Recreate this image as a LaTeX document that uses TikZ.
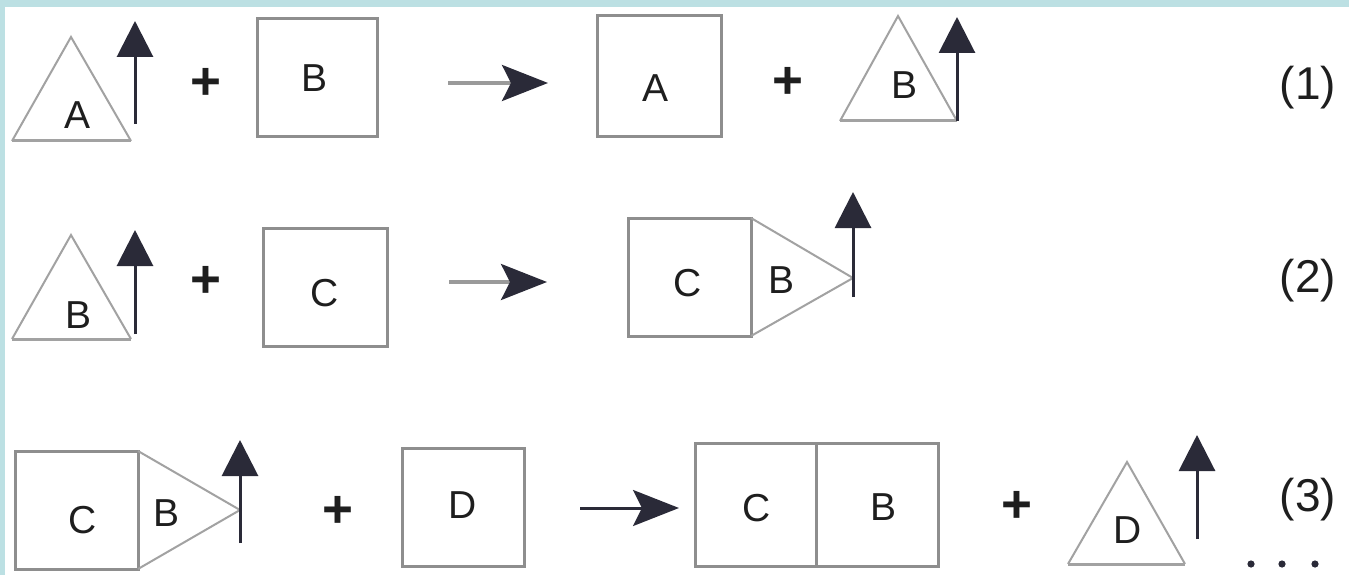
\documentclass[tikz,border=0pt]{standalone}
\usepackage{fontspec}
\setmainfont{Liberation Sans}
\usetikzlibrary{arrows.meta}
\definecolor{bordercyan}{HTML}{BCE0E3}
\definecolor{boxgray}{HTML}{8E8E8E}
\definecolor{trigray}{HTML}{A2A2A2}
\definecolor{arrowdark}{HTML}{2A2A38}
\definecolor{arrowgray}{HTML}{9A9A9A}
\definecolor{textdark}{HTML}{1E1E1E}
\begin{document}
\begin{tikzpicture}[x=1pt,y=-1pt,
  box/.style={draw=boxgray, line width=3pt},
  tri/.style={draw=trigray, line width=2pt, line join=miter},
  tribase/.style={draw=trigray, line width=3pt},
  lab/.style={font=\fontsize{39}{40}\selectfont, text=textdark, inner sep=0pt},
  num/.style={font=\fontsize{46}{48}\selectfont, text=textdark, inner sep=0pt},
  plussign/.style={font=\bfseries\fontsize{53}{55}\selectfont, text=textdark, inner sep=0pt},
  release/.style={draw=arrowdark, line width=3pt, -{Triangle[length=36pt,width=36pt]}},
  react/.style={draw=arrowgray, line width=3.5pt, -{Stealth[length=46pt,width=36pt,inset=9pt,color=arrowdark]}},
  reactdark/.style={draw=arrowdark, line width=3pt, -{Stealth[length=46pt,width=36pt,inset=9pt,color=arrowdark]}}
]
\useasboundingbox (0,0) rectangle (1349,575);
\fill[white] (0,0) rectangle (1349,575);
\fill[bordercyan] (0,0) rectangle (1349,7);
\fill[bordercyan] (0,0) rectangle (5,575);

% ---------- Row 1 ----------
\draw[tri] (12,141) -- (71,37) -- (131,141);
\draw[tribase] (12,141) -- (131,141);
\node[lab] (r1ta) at (78,115) {A};
\coordinate (r1u1s) at (135,124); \coordinate (r1u1e) at (135,21);
\draw[release] (r1u1s) -- (r1u1e);
\node[plussign] (r1p1) at (206,84) {+};
\draw[box] (257,19) rectangle (377,137);
\node[lab] (r1sb) at (315,78) {B};
\coordinate (r1as) at (448,83); \coordinate (r1ae) at (548,83);
\draw[react] (r1as) -- (r1ae);
\draw[box] (597,16) rectangle (721,137);
\node[lab] (r1sa) at (655,88) {A};
\node[plussign] (r1p2) at (788,83) {+};
\draw[tri] (840,121) -- (898,16) -- (957,121);
\draw[tribase] (840,121) -- (957,121);
\node[lab] (r1tb) at (904,85) {B};
\coordinate (r1u2s) at (957,121); \coordinate (r1u2e) at (957,17);
\draw[release] (r1u2s) -- (r1u2e);
\node[num] (n1) at (1308,88) {(1)};

% ---------- Row 2 ----------
\draw[tri] (12,339) -- (71,235) -- (131,339);
\draw[tribase] (12,339) -- (131,339);
\node[lab] (r2tb) at (79,315) {B};
\coordinate (r2u1s) at (135,334); \coordinate (r2u1e) at (135,230);
\draw[release] (r2u1s) -- (r2u1e);
\node[plussign] (r2p1) at (206,282) {+};
\draw[box] (263,228) rectangle (387,346);
\node[lab] (r2sc) at (325,293) {C};
\coordinate (r2as) at (449,282); \coordinate (r2ae) at (547,282);
\draw[react] (r2as) -- (r2ae);
\draw[box] (628,218) rectangle (751,336);
\node[lab] (r2pc) at (688,283) {C};
\draw[tri] (751,218) -- (853,278) -- (751,336);
\node[lab] (r2pb) at (781,280) {B};
\coordinate (r2u2s) at (853,297); \coordinate (r2u2e) at (853,192);
\draw[release] (r2u2s) -- (r2u2e);
\node[num] (n2) at (1308,281) {(2)};

% ---------- Row 3 ----------
\draw[box] (15,451) rectangle (138,569);
\node[lab] (r3sc) at (83,520) {C};
\draw[tri] (138,451) -- (240,510) -- (138,569);
\node[lab] (r3sb) at (167,513) {B};
\coordinate (r3u1s) at (240,543); \coordinate (r3u1e) at (240,440);
\draw[release] (r3u1s) -- (r3u1e);
\node[plussign] (r3p1) at (338,512) {+};
\draw[box] (402,448) rectangle (524,566);
\node[lab] (r3sd) at (463,505) {D};
\coordinate (r3as) at (580,508); \coordinate (r3ae) at (679,508);
\draw[reactdark] (r3as) -- (r3ae);
\draw[box] (695,443) rectangle (938,566);
\draw[box] (816,443) -- (816,566);
\node[lab] (r3pc) at (757,508) {C};
\node[lab] (r3pb) at (883,507) {B};
\node[plussign] (r3p2) at (1017,507) {+};
\draw[tri] (1068,564) -- (1127,462) -- (1185,564);
\draw[tribase] (1068,564) -- (1185,564);
\node[lab] (r3td) at (1128,530) {D};
\coordinate (r3u2s) at (1197,539); \coordinate (r3u2e) at (1197,435);
\draw[release] (r3u2s) -- (r3u2e);
\node[num] (n3) at (1308,500) {(3)};
\fill[arrowdark] (1251,564) circle (3.6) (1282,564) circle (3.6) (1315,564) circle (3.6);
\end{tikzpicture}
\end{document}
